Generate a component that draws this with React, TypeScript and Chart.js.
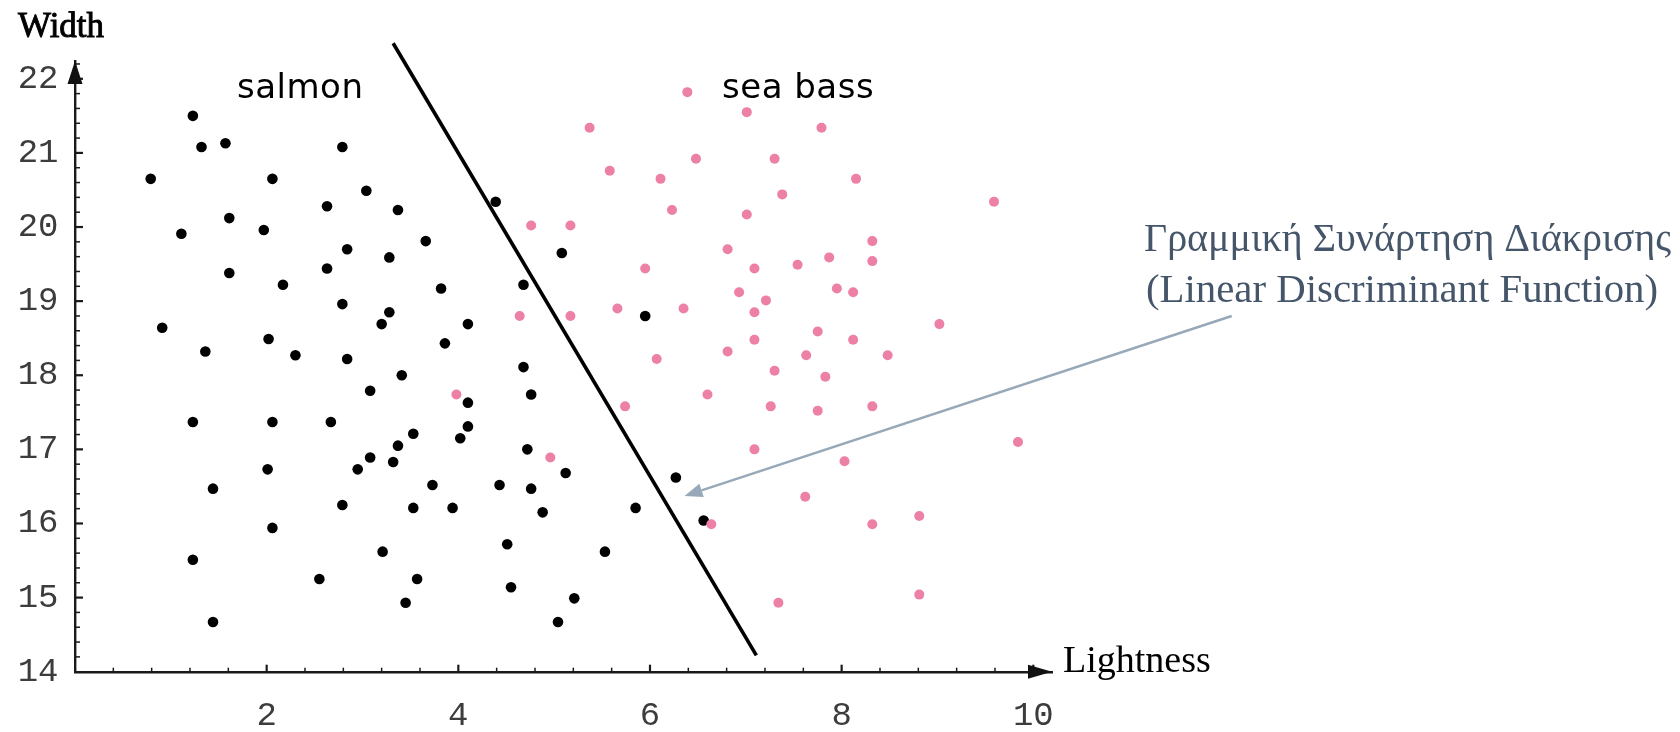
import React, { useEffect, useRef } from 'react';
import { Chart, registerables } from 'chart.js';

Chart.register(...registerables);

// ---- data (Lightness, Width) ----
const SALMON_X = [
  1.23, 1.32, 1.57, 2.79, 0.79, 2.06, 3.04, 2.63, 3.37, 1.61,
  1.11, 1.97, 2.84, 3.28, 2.63, 1.61, 2.17, 2.79, 3.28, 3.20,
  0.91, 1.36, 2.02, 2.30, 2.84, 3.41, 4.39, 3.66, 5.08, 3.82,
  4.68, 4.10, 3.86, 5.95, 4.68, 4.76, 4.10, 4.10, 4.02, 3.53,
  3.37, 3.32, 4.72, 3.73, 4.43, 4.76, 5.12, 3.53, 3.94, 4.88,
  5.85, 6.27, 6.56, 3.21, 4.51, 5.53, 3.57, 4.55, 5.21, 3.45,
  5.04, 3.08, 1.23, 2.06, 2.67, 3.08, 2.95, 2.01, 1.44, 2.79,
  2.06, 1.23, 2.55, 1.44,
];
const SALMON_Y = [
  21.50, 21.08, 21.13, 21.08, 20.65, 20.65, 20.49, 20.28, 20.23, 20.12,
  19.91, 19.96, 19.70, 19.59, 19.44, 19.38, 19.22, 18.96, 18.85, 18.69,
  18.64, 18.32, 18.49, 18.27, 18.22, 18.00, 20.34, 19.81, 19.65, 19.17,
  19.22, 18.69, 18.43, 18.80, 18.11, 17.74, 17.63, 17.31, 17.15, 17.21,
  17.05, 16.83, 17.00, 16.52, 16.52, 16.47, 16.68, 16.21, 16.21, 16.15,
  16.21, 16.62, 16.04, 15.62, 15.72, 15.62, 15.25, 15.14, 14.99, 14.93,
  14.67, 17.79, 17.37, 17.37, 17.37, 16.89, 16.73, 16.73, 16.47, 16.25,
  15.94, 15.51, 15.25, 14.67,
];
const SEABASS_X = [
  6.39, 7.01, 5.37, 5.58, 6.48, 7.30, 6.11, 7.38, 6.23, 7.01,
  4.76, 5.17, 6.81, 5.95, 7.09, 7.54, 6.93, 7.21, 7.09, 5.66,
  6.35, 4.64, 5.17, 7.09, 6.81, 6.07, 7.30, 7.79, 8.15, 9.59,
  7.87, 8.32, 8.32, 7.95, 8.12, 7.75, 8.12, 9.02, 7.63, 8.48,
  7.83, 3.98, 4.96, 5.74, 6.60, 7.26, 7.09, 6.64, 7.34, 7.75,
  8.32, 8.03, 9.84, 7.62, 8.32, 8.81, 8.81,
];
const SEABASS_Y = [
  21.82, 21.55, 21.34, 20.76, 20.92, 20.92, 20.65, 20.44, 20.23, 20.17,
  20.02, 20.02, 19.70, 19.44, 19.44, 19.49, 19.12, 19.01, 18.85, 18.90,
  18.90, 18.80, 18.80, 18.48, 18.32, 18.22, 18.06, 21.34, 20.65, 20.34,
  19.59, 19.81, 19.54, 19.17, 19.12, 18.59, 18.48, 18.69, 18.27, 18.27,
  17.98, 17.74, 16.89, 17.58, 17.74, 17.58, 17.00, 15.99, 14.93, 17.52,
  17.58, 16.84, 17.10, 16.36, 15.99, 16.10, 15.04,
];
// decision boundary endpoints
const BOUNDARY_X = [3.32, 7.11];
const BOUNDARY_Y = [22.48, 14.22];
// annotation arrow (from text to boundary)
const ARROW_X = [12.07, 6.36];
const ARROW_Y = [18.8, 16.37];

const X_TICKS = [2, 4, 6, 8, 10];
const Y_TICKS = [14, 15, 16, 17, 18, 19, 20, 21, 22];
const X_MINOR_STEP = 0.4;
const Y_MINOR_STEP = 0.2;

const X_LABEL = 'Lightness';
const Y_LABEL = 'Width';
const CLASS_LABELS = ['salmon', 'sea bass'];
const NOTE_LINES = ['Γραμμική Συνάρτηση Διάκρισης', '(Linear Discriminant Function)'];

const PINK = '#ec80a6';
const NOTE_COLOR = '#45556a';
const ARROW_COLOR = '#97a9b9';

const decorPlugin = {
  id: 'decor',
  afterDraw(chart: any) {
    const { ctx, chartArea, scales } = chart;
    const xs = scales.x;
    const ys = scales.y;
    const left = chartArea.left;
    const bottom = chartArea.bottom;
    ctx.save();
    ctx.strokeStyle = '#1a1a1a';
    ctx.fillStyle = '#111';
    // inward tick marks on x axis
    for (let v = X_MINOR_STEP; v <= xs.max + 1e-6; v += X_MINOR_STEP) {
      const r = Math.round(v * 10) / 10;
      const major = X_TICKS.some((t) => Math.abs(t - r) < 1e-6);
      const px = xs.getPixelForValue(r);
      ctx.beginPath();
      ctx.moveTo(px, bottom);
      ctx.lineTo(px, bottom - (major ? 7 : 4));
      ctx.lineWidth = major ? 2.2 : 1.5;
      ctx.stroke();
    }
    // inward tick marks on y axis
    for (let v = ys.min + Y_MINOR_STEP; v <= ys.max + 1e-6; v += Y_MINOR_STEP) {
      const r = Math.round(v * 10) / 10;
      const major = Y_TICKS.some((t) => Math.abs(t - r) < 1e-6);
      const py = ys.getPixelForValue(r);
      ctx.beginPath();
      ctx.moveTo(left, py);
      ctx.lineTo(left + (major ? 8 : 5), py);
      ctx.lineWidth = major ? 2.2 : 1.5;
      ctx.stroke();
    }
    // axis arrowheads
    ctx.beginPath();
    ctx.moveTo(chartArea.right, bottom);
    ctx.lineTo(chartArea.right - 24, bottom - 7);
    ctx.lineTo(chartArea.right - 24, bottom + 7);
    ctx.closePath();
    ctx.fill();
    ctx.beginPath();
    ctx.moveTo(left, chartArea.top);
    ctx.lineTo(left - 7.5, chartArea.top + 23);
    ctx.lineTo(left + 7.5, chartArea.top + 23);
    ctx.closePath();
    ctx.fill();

    // axis titles
    ctx.fillStyle = '#000';
    ctx.strokeStyle = '#000';
    ctx.textBaseline = 'alphabetic';
    ctx.textAlign = 'left';
    ctx.font = '35px "Liberation Serif"';
    ctx.lineWidth = 0.9;
    ctx.fillText(Y_LABEL, 18, 37);
    ctx.strokeText(Y_LABEL, 18, 37);
    ctx.font = '38px "Liberation Serif"';
    ctx.fillText(X_LABEL, chartArea.right + 11, bottom);

    // class labels
    ctx.font = '34px "DejaVu Sans"';
    (ctx as any).letterSpacing = '0.5px';
    ctx.fillText(CLASS_LABELS[0], 237, 98);
    ctx.fillText(CLASS_LABELS[1], 722, 98);
    (ctx as any).letterSpacing = '0px';

    // annotation arrow
    const ax0 = xs.getPixelForValue(ARROW_X[0]);
    const ay0 = ys.getPixelForValue(ARROW_Y[0]);
    const ax1 = xs.getPixelForValue(ARROW_X[1]);
    const ay1 = ys.getPixelForValue(ARROW_Y[1]);
    const ang = Math.atan2(ay1 - ay0, ax1 - ax0);
    const headLen = 18;
    const headW = 7;
    const bx = ax1 - headLen * Math.cos(ang);
    const by = ay1 - headLen * Math.sin(ang);
    ctx.strokeStyle = ARROW_COLOR;
    ctx.fillStyle = ARROW_COLOR;
    ctx.lineWidth = 2.5;
    ctx.beginPath();
    ctx.moveTo(ax0, ay0);
    ctx.lineTo(bx, by);
    ctx.stroke();
    ctx.beginPath();
    ctx.moveTo(ax1, ay1);
    ctx.lineTo(bx + headW * Math.sin(ang), by - headW * Math.cos(ang));
    ctx.lineTo(bx - headW * Math.sin(ang), by + headW * Math.cos(ang));
    ctx.closePath();
    ctx.fill();

    // note text
    ctx.fillStyle = NOTE_COLOR;
    ctx.font = '40px "Liberation Serif"';
    ctx.fillText(NOTE_LINES[0], 1144, 251);
    ctx.font = '40.8px "Liberation Serif"';
    ctx.fillText(NOTE_LINES[1], 1146, 302);
    ctx.restore();
  },
};

export default function App() {
  const ref = useRef<HTMLCanvasElement | null>(null);
  useEffect(() => {
    if (!ref.current) return;
    const salmon = SALMON_X.map((x, i) => ({ x, y: SALMON_Y[i] }));
    const seabass = SEABASS_X.map((x, i) => ({ x, y: SEABASS_Y[i] }));
    const boundary = BOUNDARY_X.map((x, i) => ({ x, y: BOUNDARY_Y[i] }));
    const tickFont = { family: '"Liberation Mono", monospace', size: 34, lineHeight: 1.2 };
    const chart = new Chart(ref.current, {
      type: 'scatter',
      data: {
        datasets: [
          {
            label: 'sea bass',
            data: seabass,
            pointRadius: 5,
            pointBackgroundColor: PINK,
            pointBorderWidth: 0,
            borderColor: PINK,
            order: 0,
            clip: false,
          },
          {
            label: 'salmon',
            data: salmon,
            pointRadius: 5.3,
            pointBackgroundColor: '#000',
            pointBorderWidth: 0,
            borderColor: '#000',
            order: 1,
            clip: false,
          },
          {
            label: 'boundary',
            data: boundary,
            showLine: true,
            borderColor: '#000',
            borderWidth: 3.6,
            pointRadius: 0,
            order: 2,
            clip: false,
          },
        ],
      } as any,
      options: {
        responsive: false,
        animation: false,
        events: [],
        layout: { padding: { top: 61, right: 628, bottom: 0, left: 0 } },
        plugins: { legend: { display: false }, tooltip: { enabled: false } },
        scales: {
          x: {
            type: 'linear',
            min: 0,
            max: 10.195,
            afterBuildTicks: (s: any) => {
              s.ticks = X_TICKS.map((v) => ({ value: v }));
            },
            afterFit: (s: any) => {
              s.height = 60.3;
            },
            ticks: {
              autoSkip: false,
              maxRotation: 0,
              padding: 24,
              color: '#3c3c3c',
              font: tickFont,
              callback: (v: any) => String(v),
            },
            grid: { display: false, drawTicks: false, tickLength: 0 },
            border: { display: true, color: '#1a1a1a', width: 2.4 },
          },
          y: {
            type: 'linear',
            min: 14,
            max: 22.24,
            afterBuildTicks: (s: any) => {
              s.ticks = Y_TICKS.map((v) => ({ value: v }));
            },
            afterFit: (s: any) => {
              s.width = 75;
            },
            ticks: {
              autoSkip: false,
              padding: 16.5,
              color: '#3c3c3c',
              font: tickFont,
              callback: (v: any) => String(v),
            },
            grid: { display: false, drawTicks: false, tickLength: 0 },
            border: { display: true, color: '#1a1a1a', width: 2.4 },
          },
        },
      } as any,
      plugins: [decorPlugin],
    });
    return () => chart.destroy();
  }, []);
  return (
    <div style={{ position: 'absolute', left: 0, top: 0, width: 1680, height: 732, background: '#fff' }}>
      <canvas ref={ref} width={1680} height={732} style={{ display: 'block' }} />
    </div>
  );
}
